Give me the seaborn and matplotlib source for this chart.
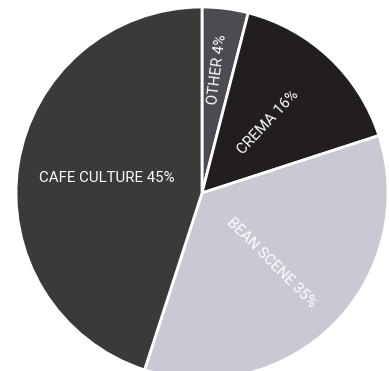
import matplotlib
matplotlib.use("Agg")
import matplotlib.pyplot as plt
import seaborn as sns
import numpy as np

sns.set_style("white")
plt.rcParams['font.family'] = ['Roboto', 'DejaVu Sans']

labels = ["OTHER", "CREMA", "BEAN SCENE", "CAFE CULTURE"]
values = [4, 16, 35, 45]
colors = ["#4b4b52", "#221e1f", "#c9c9d5", "#3a3a3a"]
label_radius = [0.67, 0.52, 0.53, 0.52]

fig = plt.figure(figsize=(3.89, 3.71), dpi=100)
ax = fig.add_axes([16/389, (371-379)/371, 372/389, 372/371])
wedges, _ = ax.pie(values, colors=colors, startangle=90, counterclock=False,
                   wedgeprops=dict(edgecolor="white", linewidth=2))
for w, lab, v, r in zip(wedges, labels, values, label_radius):
    mid = (w.theta1 + w.theta2) / 2
    rad = np.deg2rad(mid)
    x, y = r * np.cos(rad), r * np.sin(rad)
    rot = mid
    if rot > 90:
        rot -= 180
    if lab == "CAFE CULTURE":
        rot = 0
    ax.text(x, y, f"{lab} {v}%", rotation=rot, rotation_mode="anchor",
            ha="center", va="center", color="white", fontsize=10.8)
ax.set_xlim(-1, 1)
ax.set_ylim(-1, 1)
ax.set_aspect("equal")
ax.axis("off")
fig.savefig("out.png", dpi=100)
